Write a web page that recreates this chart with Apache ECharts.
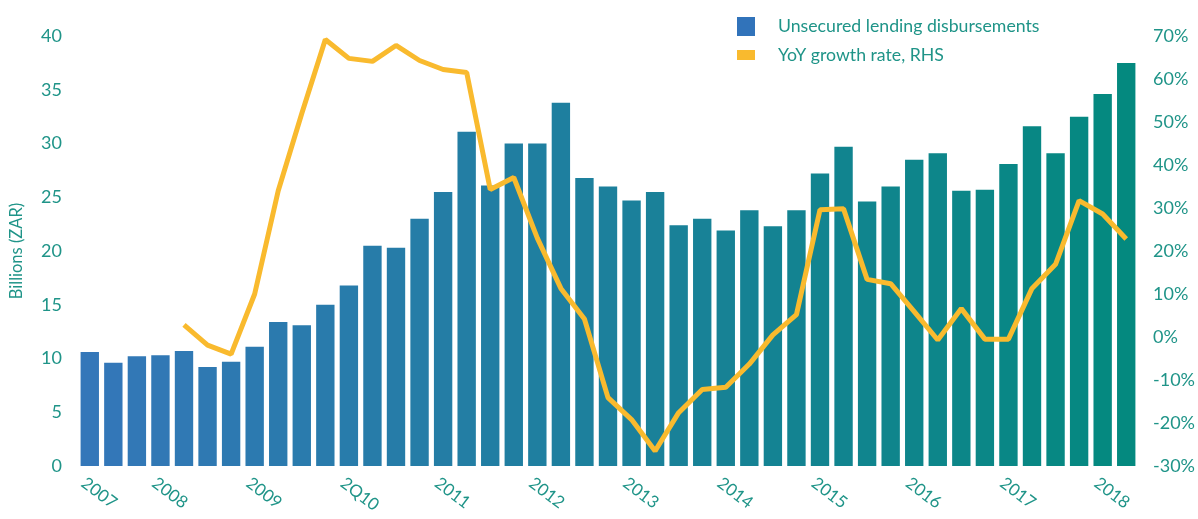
<!DOCTYPE html>
<html>
<head>
<meta charset="utf-8">
<script src="https://cdn.jsdelivr.net/npm/echarts@6/dist/echarts.min.js"></script>
<style>
html,body{margin:0;padding:0;background:#fff;}
#chart{width:1198px;height:519px;}
</style>
</head>
<body>
<div id="chart"></div>
<script>
var categories = [
 '2007Q1','2007Q2','2007Q3','2007Q4',
 '2008Q1','2008Q2','2008Q3','2008Q4',
 '2009Q1','2009Q2','2009Q3','2009Q4',
 '2010Q1','2010Q2','2010Q3','2010Q4',
 '2011Q1','2011Q2','2011Q3','2011Q4',
 '2012Q1','2012Q2','2012Q3','2012Q4',
 '2013Q1','2013Q2','2013Q3','2013Q4',
 '2014Q1','2014Q2','2014Q3','2014Q4',
 '2015Q1','2015Q2','2015Q3','2015Q4',
 '2016Q1','2016Q2','2016Q3','2016Q4',
 '2017Q1','2017Q2','2017Q3','2017Q4',
 '2018Q1'
];
var disbursements = [
 10.6, 9.6, 10.2, 10.3,
 10.7, 9.2, 9.7, 11.1,
 13.4, 13.1, 15.0, 16.8,
 20.5, 20.3, 23.0, 25.5,
 31.1, 26.1, 30.0, 30.0,
 33.8, 26.8, 26.0, 24.7,
 25.5, 22.4, 23.0, 21.9,
 23.8, 22.3, 23.8, 27.2,
 29.7, 24.6, 26.0, 28.5,
 29.1, 25.6, 25.7, 28.1,
 31.6, 29.1, 32.5, 34.6,
 37.5
];
var yoyGrowth = [
 null, null, null, null,
 2.8, -1.9, -4.0, 10.0,
 34.0, 52.0, 69.2, 64.8,
 64.1, 67.8, 64.3, 62.2,
 61.5, 34.3, 37.1, 23.0,
 11.3, 4.2, -14.1, -19.2,
 -26.5, -17.6, -12.2, -11.7,
 -6.3, 0.5, 5.2, 29.6,
 29.8, 13.4, 12.4, 5.9,
 -0.7, 6.6, -0.5, -0.5,
 11.3, 16.9, 31.7, 28.6,
 22.8
];
var xTickIndex = [0, 3, 7, 11, 15, 19, 23, 27, 31, 35, 39, 43];
var xTickText = ['2007','2008','2009','2Q10','2011','2012','2013','2014','2015','2016','2017','2018'];
var leftTicks = {min: 0, max: 40, interval: 5};
var rightTicks = {min: -30, max: 70, interval: 10};

var textColor = '#1F9488';
var fontFam = 'Lato, "Open Sans", sans-serif';

function lerpColor(a, b, t) {
  var pa = [parseInt(a.substr(1,2),16), parseInt(a.substr(3,2),16), parseInt(a.substr(5,2),16)];
  var pb = [parseInt(b.substr(1,2),16), parseInt(b.substr(3,2),16), parseInt(b.substr(5,2),16)];
  var c = pa.map(function(v, i){ return Math.round(v + (pb[i]-v)*t); });
  return 'rgb(' + c.join(',') + ')';
}

var chart = echarts.init(document.getElementById('chart'));
chart.setOption({
  backgroundColor: '#fff',
  animation: false,
  grid: {left: 72, right: 60, top: 36, bottom: 53},
  legend: [{
    data: [{name: 'Unsecured lending disbursements', itemStyle: {color: '#3173BA'}}],
    left: 732, top: 12, itemWidth: 18, itemHeight: 19,
    icon: 'rect',
    textStyle: {color: textColor, fontSize: 17.7, fontFamily: fontFam, padding: [0,0,0,18]}
  }, {
    data: [{name: 'YoY growth rate, RHS', itemStyle: {color: '#F9BA2E'}}],
    left: 732, top: 41, itemWidth: 18, itemHeight: 10,
    icon: 'rect',
    textStyle: {color: textColor, fontSize: 17.7, fontFamily: fontFam, padding: [0,0,0,18]}
  }],
  xAxis: {
    type: 'category',
    data: categories,
    axisLine: {show: false},
    axisTick: {show: false},
    axisLabel: {
      interval: 0,
      rotate: -37,
      margin: 20,
      color: textColor,
      fontSize: 17,
      fontFamily: fontFam,
      padding: [19.4, 0, 0, -8],
      formatter: function(v, i) {
        var k = xTickIndex.indexOf(i);
        return k >= 0 ? xTickText[k] : '';
      }
    }
  },
  yAxis: [{
    type: 'value',
    min: leftTicks.min, max: leftTicks.max, interval: leftTicks.interval,
    name: 'Billions (ZAR)',
    nameLocation: 'middle',
    nameGap: 53,
    nameTextStyle: {color: textColor, fontSize: 16.5, fontFamily: fontFam},
    axisLine: {show: false},
    axisTick: {show: false},
    splitLine: {show: false},
    axisLabel: {color: textColor, fontSize: 18, fontFamily: fontFam, margin: 16}
  }, {
    type: 'value',
    position: 'right',
    min: rightTicks.min, max: rightTicks.max, interval: rightTicks.interval,
    axisLine: {show: false},
    axisTick: {show: false},
    splitLine: {show: false},
    axisLabel: {color: textColor, fontSize: 18, fontFamily: fontFam, margin: 15,
      formatter: function(v){ return v + '%'; }}
  }],
  series: [{
    name: 'Unsecured lending disbursements',
    type: 'bar',
    data: disbursements,
    yAxisIndex: 0,
    barCategoryGap: '22%',
    itemStyle: {
      color: function(p) { return lerpColor('#3477B9', '#04897F', p.dataIndex / (categories.length - 1)); }
    }
  }, {
    name: 'YoY growth rate, RHS',
    type: 'line',
    data: yoyGrowth,
    yAxisIndex: 1,
    showSymbol: false,
    symbol: 'none',
    connectNulls: false,
    lineStyle: {color: '#F9BA2E', width: 5},
    itemStyle: {color: '#F9BA2E'},
    z: 5
  }]
});
</script>
</body>
</html>
